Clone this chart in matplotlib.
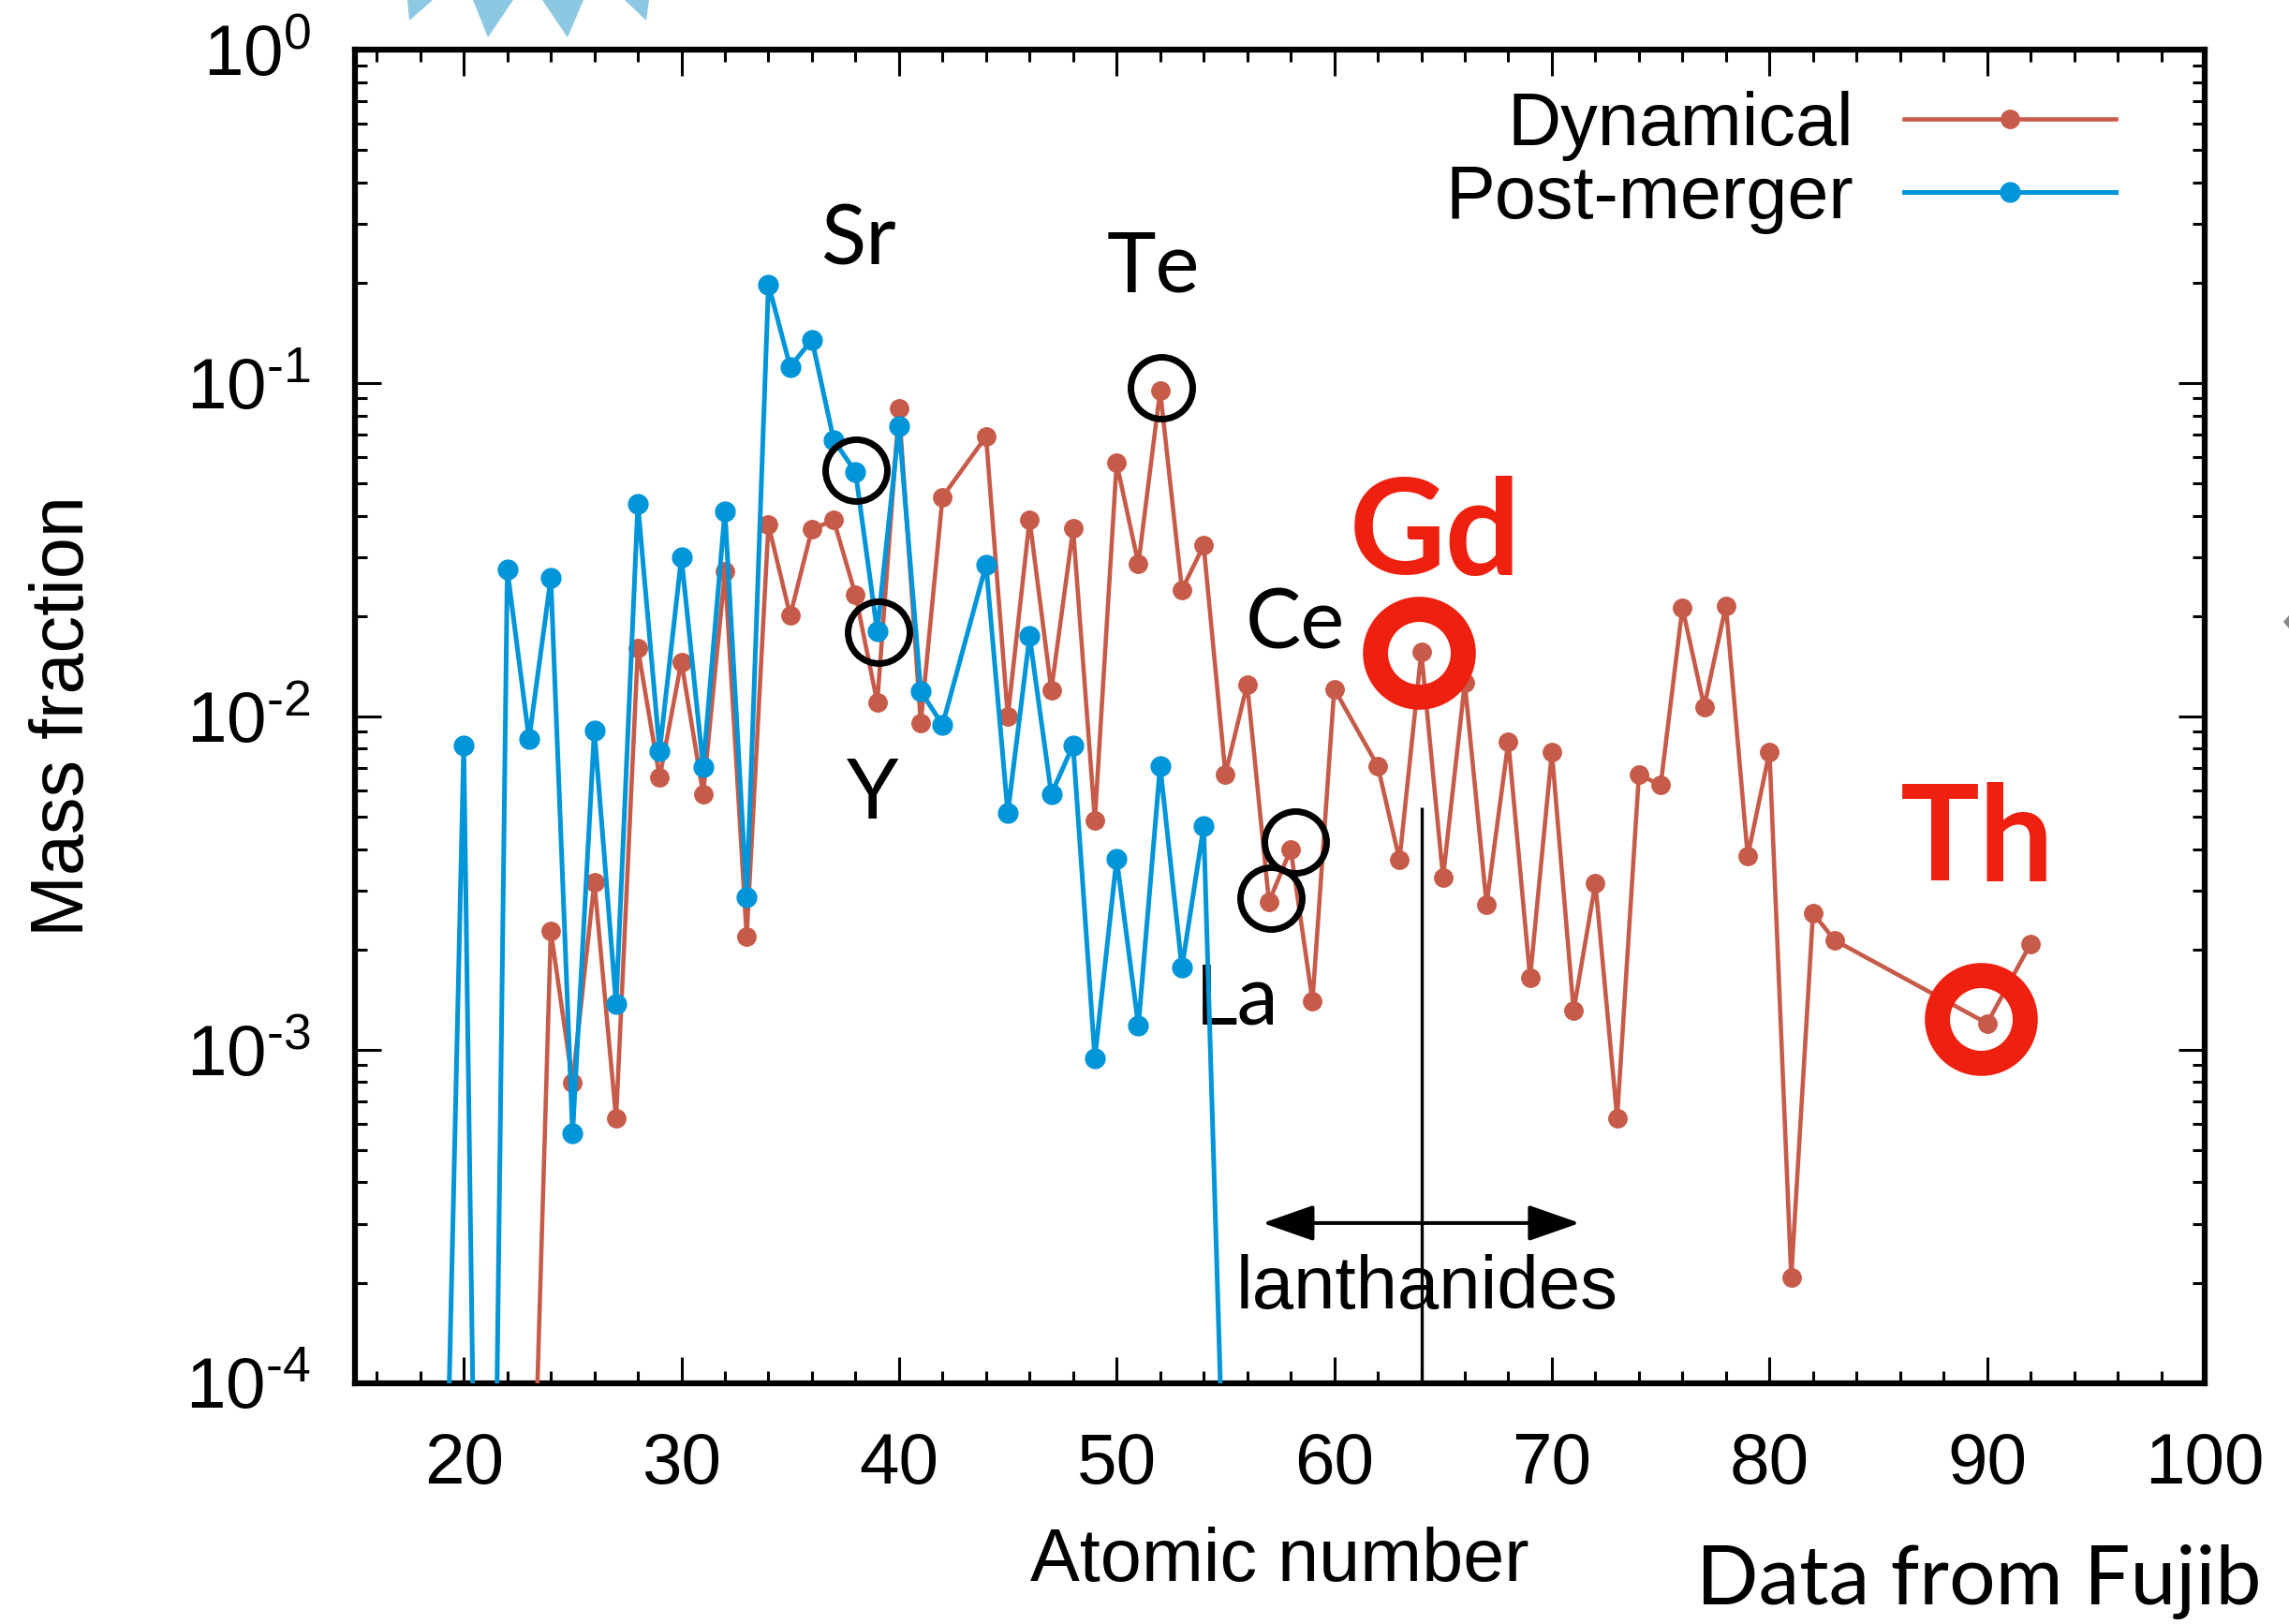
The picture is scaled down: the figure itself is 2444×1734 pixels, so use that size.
import math
import matplotlib
matplotlib.use("Agg")
import matplotlib.pyplot as plt
import matplotlib.ticker as mticker
from matplotlib.patches import Polygon

plt.rcParams['font.family'] = ['Liberation Sans', 'DejaVu Sans']
plt.rcParams['mathtext.fontset'] = 'custom'
plt.rcParams['mathtext.rm'] = 'Liberation Sans'

RED = '#c75b4a'
BLUE = '#0095d8'
HILITE = '#ee2010'

# dynamical ejecta, mass fraction vs atomic number
z_dyn = [23, 24, 25, 26, 27, 28, 29, 30, 31, 32, 33, 34, 35, 36, 37, 38, 39, 40, 41, 42,
         44, 45, 46, 47, 48, 49, 50, 51, 52, 53, 54, 55, 56, 57, 58, 59, 60,
         62, 63, 64, 65, 66, 67, 68, 69, 70, 71, 72, 73, 74, 75, 76, 77, 78, 79, 80,
         81, 82, 83, 90, 92]
x_dyn = [1.4e-5, 2.27e-3, 7.97e-4, 3.18e-3, 6.22e-4, 1.6e-2, 6.56e-3, 1.46e-2, 5.86e-3, 2.72e-2,
         2.19e-3, 3.76e-2, 2.01e-2, 3.65e-2, 3.88e-2, 2.32e-2, 1.1e-2, 8.38e-2, 9.55e-3, 4.56e-2,
         6.92e-2, 1.0e-2, 3.9e-2, 1.2e-2, 3.66e-2, 4.89e-3, 5.76e-2, 2.87e-2, 9.51e-2, 2.4e-2,
         3.26e-2, 6.71e-3, 1.25e-2, 2.78e-3, 3.99e-3, 1.4e-3, 1.21e-2,
         7.1e-3, 3.71e-3, 1.56e-2, 3.29e-3, 1.26e-2, 2.73e-3, 8.41e-3, 1.64e-3, 7.82e-3, 1.31e-3,
         3.16e-3, 6.24e-4, 6.7e-3, 6.22e-3, 2.12e-2, 1.07e-2, 2.15e-2, 3.81e-3, 7.83e-3,
         2.07e-4, 2.57e-3, 2.13e-3, 1.2e-3, 2.08e-3]

# post-merger ejecta
z_pm = [19, 20, 21, 22, 23, 24, 25, 26, 27, 28, 29, 30, 31, 32, 33, 34, 35, 36, 37, 38, 39,
        40, 41, 42, 44, 45, 46, 47, 48, 49, 50, 51, 52, 53, 54, 55]
x_pm = [1.1e-5, 8.2e-3, 1.8e-7, 2.76e-2, 8.55e-3, 2.6e-2, 5.6e-4, 9.07e-3, 1.37e-3, 4.34e-2,
        7.87e-3, 3.0e-2, 7.06e-3, 4.13e-2, 2.86e-3, 0.198, 0.112, 0.135, 6.75e-2, 5.42e-2, 1.8e-2,
        7.45e-2, 1.19e-2, 9.44e-3, 2.85e-2, 5.13e-3, 1.74e-2, 5.85e-3, 8.2e-3, 9.44e-4, 3.74e-3,
        1.18e-3, 7.1e-3, 1.76e-3, 4.68e-3, 3.1e-5]

# element labels (name, Z position, baseline value)
elem_names = ['Sr', 'Te', 'Ce', 'La', 'Y']
elem_z = [38.12, 51.68, 58.2, 55.53, 38.79]
elem_y = [0.2275, 0.188, 1.6e-2, 1.19e-3, 4.94e-3]

# circled points
circ_z = [38.01, 39.05, 52.06, 58.23, 57.09]
circ_y = [5.5e-2, 1.79e-2, 9.69e-2, 4.21e-3, 2.85e-3]

big_names = ['Gd', 'Th']
big_z = [64.63, 89.55]
big_y = [2.68e-2, 3.22e-3]
ring_z = [63.9, 89.73]
ring_y = [1.556e-2, 1.233e-3]


def decade_label(v, pos):
    n = int(round(math.log10(v)))
    sign = '\u2010' if n < 0 else ''
    return r'$\mathregular{10^{%s%d}}$' % (sign, abs(n))


W, H = 2444, 1734
fig = plt.figure(figsize=(W / 100, H / 100), dpi=100)
ax = fig.add_axes([379 / W, 1 - 1476.7 / H, (2354 - 379) / W, (1476.7 - 53.3) / H])

ax.plot(z_dyn, x_dyn, '-o', color=RED, lw=3.3, ms=14, label='Dynamical', zorder=3)
ax.plot(z_pm, x_pm, '-o', color=BLUE, lw=3.6, ms=15, label='Post-merger', zorder=4)

ax.set_yscale('log')
ax.set_xlim(15, 100)
ax.set_ylim(1e-4, 1)

ax.xaxis.set_major_locator(mticker.MultipleLocator(10))
ax.xaxis.set_minor_locator(mticker.MultipleLocator(2))
ax.yaxis.set_major_formatter(mticker.FuncFormatter(decade_label))

for s in ax.spines.values():
    s.set_linewidth(4.5)
ax.tick_params(which='both', direction='in', top=True, right=True, width=2.2)
ax.tick_params(which='major', length=20)
ax.tick_params(which='minor', length=9.5)
ax.tick_params(axis='x', which='major', labelsize=55, pad=38)
ax.tick_params(axis='y', which='major', labelsize=55, pad=34)

ax.set_xlabel('Atomic number', fontsize=57)
ax.set_ylabel('Mass fraction', fontsize=57)
ax.xaxis.set_label_coords(0.5, -0.108)
ax.yaxis.set_label_coords(-0.138, 0.5)

ax.legend(loc='upper right', bbox_to_anchor=(0.9518, 0.9695), frameon=False, markerfirst=False,
          fontsize=57, handlelength=2.85, handletextpad=0.68, labelspacing=0.04,
          borderpad=0, borderaxespad=0, numpoints=1)

# annotations
ax.plot(circ_z, circ_y, 'o', mfc='none', mec='k', ms=47.5, mew=5, zorder=5)
for name, z, y in zip(elem_names, elem_z, elem_y):
    ax.text(z, y, name, ha='center', va='baseline', fontsize=64, family='Lato')

ax.plot(ring_z, ring_y, 'o', mfc='none', mec=HILITE, ms=67.5, mew=19.3, zorder=6)
for name, z, y in zip(big_names, big_z, big_y):
    ax.text(z, y, name, ha='center', va='baseline', fontsize=102, family='Lato',
            fontweight='bold', color=HILITE)

# lanthanide range
ax.annotate('', xy=(71.28, 3.02e-4), xytext=(56.71, 3.02e-4),
            arrowprops=dict(arrowstyle='<|-|>,head_length=0.4,head_width=0.14', color='k',
                            lw=2.9, mutation_scale=85, shrinkA=0, shrinkB=0))
ax.text(64.28, 1.68e-4, 'lanthanides', ha='center', va='baseline', fontsize=57.5)
ax.vlines(64, 1e-4, 5.34e-3, color='k', lw=2.4, zorder=2)

fig.text(1811 / W, 1 - 1713 / H, 'Data from Fujib', fontsize=63, family='Lato',
         ha='left', va='baseline')

# bits of the slide graphic around the plot
tri_px = [[(435, 0), (462, 0), (437, 22)],
          [(505, 0), (548, 0), (521, 40)],
          [(579, 0), (623, 0), (606, 40)],
          [(667, 0), (693, 0), (690, 22)]]
for tri in tri_px:
    fig.patches.append(Polygon([(x / W, 1 - y / H) for x, y in tri], closed=True,
                               transform=fig.transFigure, color='#8cc8e2', lw=0))
fig.patches.append(Polygon([(2438 / W, 1 - 664 / H), (1.0, 1 - 657 / H), (1.0, 1 - 671 / H)],
                           closed=True, transform=fig.transFigure, color='#888888', lw=0))

fig.savefig('out.png', dpi=100)
